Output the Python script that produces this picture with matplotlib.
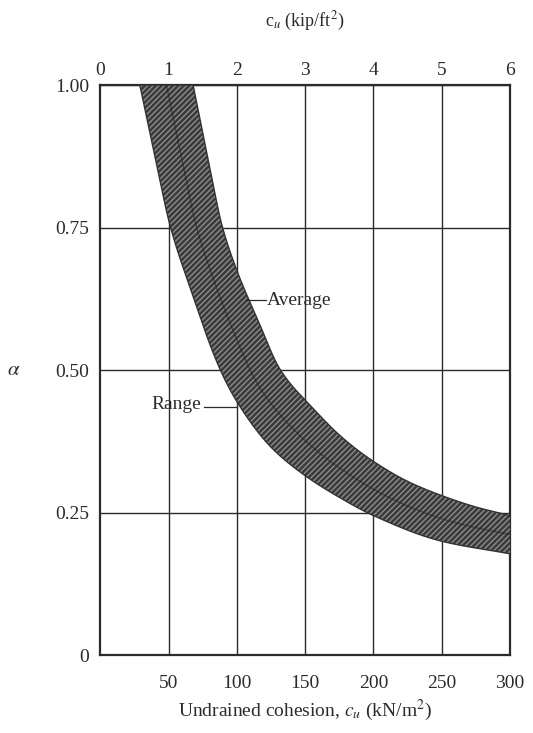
import numpy as np
import matplotlib
matplotlib.use("Agg")
import matplotlib.pyplot as plt

# band limits (cu in kN/m^2, alpha)
lower_cu = [29, 40, 51, 65, 88, 100, 125, 150, 175, 200, 250, 300]
lower_alpha = [1.00, 0.875, 0.755, 0.65, 0.50, 0.445, 0.365, 0.315, 0.277, 0.245, 0.20, 0.178]
upper_cu = [68, 80, 89, 100, 115, 132, 155, 178, 200, 225, 250, 275, 300]
upper_alpha = [1.00, 0.858, 0.755, 0.675, 0.59, 0.50, 0.435, 0.38, 0.34, 0.305, 0.28, 0.26, 0.245]

bottom_ticks = [50, 100, 150, 200, 250, 300]
top_ticks = [0, 1, 2, 3, 4, 5, 6]
alpha_ticks = [0, 0.25, 0.50, 0.75, 1.00]
alpha_labels = ["0", "0.25", "0.50", "0.75", "1.00"]
kip_to_kn = 50.0  # grid in the book puts 1 kip/ft2 on 50 kN/m2

plt.rcParams["font.family"] = ["Liberation Serif", "DejaVu Serif"]
plt.rcParams["mathtext.fontset"] = "stix"
ink = "#2b2b2b"


def pchip(xp, yp, x):
    # monotone cubic through the read points (Fritsch-Carlson)
    xp = np.asarray(xp, float)
    yp = np.asarray(yp, float)
    h = np.diff(xp)
    d = np.diff(yp) / h
    m = np.zeros_like(yp)
    m[0], m[-1] = d[0], d[-1]
    for k in range(1, len(xp) - 1):
        if d[k - 1] * d[k] > 0:
            w1 = 2 * h[k] + h[k - 1]
            w2 = h[k] + 2 * h[k - 1]
            m[k] = (w1 + w2) / (w1 / d[k - 1] + w2 / d[k])
    idx = np.clip(np.searchsorted(xp, x) - 1, 0, len(h) - 1)
    t = (x - xp[idx]) / h[idx]
    h00 = 2 * t**3 - 3 * t**2 + 1
    h10 = t**3 - 2 * t**2 + t
    h01 = -2 * t**3 + 3 * t**2
    h11 = t**3 - t**2
    return (h00 * yp[idx] + h10 * h[idx] * m[idx]
            + h01 * yp[idx + 1] + h11 * h[idx] * m[idx + 1])


def resample(x, y, n=400):
    # points evenly spaced along the curve (roughly in screen proportions)
    sx, sy = x * 410 / 300, y * 570
    s = np.concatenate([[0], np.cumsum(np.hypot(np.diff(sx), np.diff(sy)))])
    t = np.linspace(0, s[-1], n)
    return np.interp(t, s, x), np.interp(t, s, y)


def band_curves():
    cu = np.linspace(lower_cu[0], 300, 600)
    lo = pchip(lower_cu, lower_alpha, cu)
    up = np.where(cu < upper_cu[0], 1.0,
                  pchip(upper_cu, upper_alpha, np.maximum(cu, upper_cu[0])))
    return cu, lo, up


fig = plt.figure(figsize=(5.33, 7.33), dpi=100)
fig.patch.set_facecolor("white")
ax = fig.add_axes([0.188, 0.106, 0.769, 0.778])

cu, lo, up = band_curves()
ax.fill_between(cu, lo, up, facecolor="#3a3a3a", edgecolor="#8c8c8c",
                hatch="//////", linewidth=0, zorder=3)
ax.plot(cu, lo, color="#333333", lw=1.0, zorder=4)
ax.plot(cu, up, color="#333333", lw=1.0, zorder=4)

# average curve, midway between the two edges
cu_u = np.linspace(upper_cu[0], 300, 600)
lx, ly = resample(cu, lo)
ux, uy = resample(cu_u, pchip(upper_cu, upper_alpha, cu_u))
ax.plot((lx + ux) / 2, (ly + uy) / 2, color="#222222", lw=1.0, alpha=0.55, zorder=4)

ax.set_xlim(0, 300)
ax.set_ylim(0, 1.0)
ax.set_xticks(bottom_ticks)
ax.set_yticks(alpha_ticks)
ax.set_yticklabels(alpha_labels)
ax.grid(True, color=ink, lw=1.0, zorder=1)
ax.tick_params(length=0, labelsize=14, colors=ink, pad=8)
ax.tick_params(axis="x", pad=14)
for s in ax.spines.values():
    s.set_linewidth(1.6)
    s.set_color(ink)
ax.set_axisbelow(True)

top = ax.secondary_xaxis("top", functions=(lambda x: x / kip_to_kn,
                                           lambda x: x * kip_to_kn))
top.set_xticks(top_ticks)
top.tick_params(length=0, labelsize=14, colors=ink, pad=4)
top.spines["top"].set_visible(False)
top.set_xlabel(r"c$_u$ (kip/ft$^2$)", fontsize=13, color=ink, labelpad=26)

ax.set_xlabel(r"Undrained cohesion, $c_u$ (kN/m$^2$)", fontsize=14,
              color=ink, labelpad=4)
ax.set_ylabel(r"$\alpha$", fontsize=15, color=ink, rotation=0, labelpad=30,
              va="center")

# annotations
ax.plot([107, 121], [0.623, 0.623], color=ink, lw=0.9, zorder=5)
ax.text(122, 0.623, "Average", fontsize=14, color=ink, va="center", ha="left")
ax.plot([76, 100], [0.435, 0.435], color=ink, lw=0.9, zorder=5)
ax.text(74, 0.44, "Range", fontsize=14, color=ink, va="center", ha="right")

fig.savefig("out.png", dpi=100)
